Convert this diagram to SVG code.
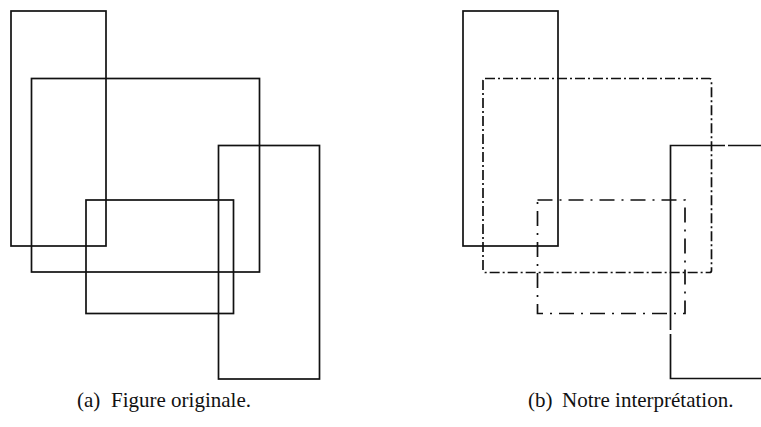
<svg xmlns="http://www.w3.org/2000/svg" width="761" height="427" viewBox="0 0 761 427">
  <style>
    .r { fill: none; stroke: #111; stroke-width: 1.7; }
    .dd { stroke-dasharray: 10 3 2 3; }
    .ld { stroke-dasharray: 15 7 2 7; }
    .cap { font-family: "Liberation Serif", "Times New Roman", serif; font-size: 21px; fill: #111; }
  </style>
  <rect width="761" height="427" fill="#fff"/>

  <!-- (a) original figure -->
  <g id="a-tall-left"><rect class="r" x="11" y="11" width="95" height="235"/></g>
  <g id="a-wide"><rect class="r" x="31.5" y="78.5" width="228" height="193.5"/></g>
  <g id="a-tall-right"><rect class="r" x="218.5" y="145.5" width="101" height="233.5"/></g>
  <g id="a-small"><rect class="r" x="86" y="200" width="147.5" height="113.5"/></g>

  <!-- (b) interpretation -->
  <g id="b-tall-left"><rect class="r" x="463" y="11" width="95" height="235"/></g>
  <g id="b-wide"><rect class="r dd" x="483" y="78.5" width="228.5" height="194" rx="2"/></g>
  <g id="b-small"><rect class="r ld" x="537.5" y="200" width="147.5" height="113.5"/></g>
  <g id="b-tall-right">
    <path class="r" d="M725 145.5 H670.5 V330"/>
    <path class="r" d="M728 145.5 H761"/>
    <path class="r" d="M670.5 334 V378.5 H761"/>
  </g>

  <text class="cap" x="77" y="407">(a)</text>
  <text class="cap" x="111" y="407">Figure originale.</text>
  <text class="cap" x="528" y="407">(b)</text>
  <text class="cap" x="562" y="407">Notre interprétation.</text>
</svg>
